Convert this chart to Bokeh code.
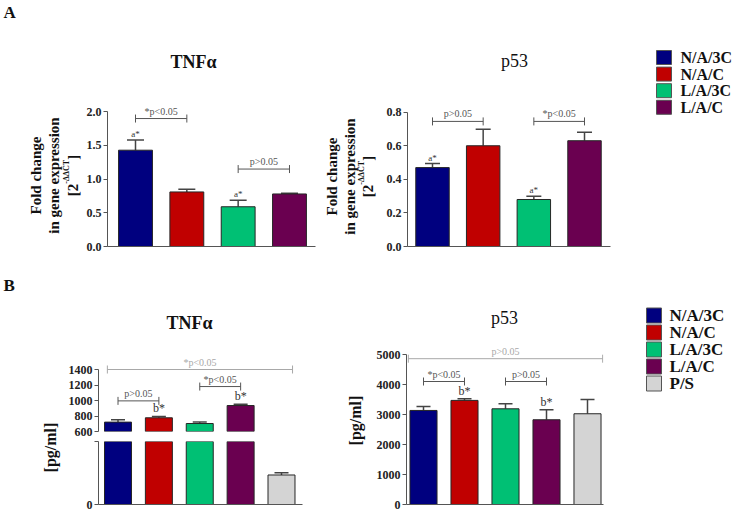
import numpy as np
from math import pi
from bokeh.plotting import figure
from bokeh.layouts import row, column
from bokeh.models import (Range1d, FixedTicker, Label, Whisker, TeeHead,
                          ColumnDataSource, NumeralTickFormatter)
from bokeh.embed import file_html
from bokeh.resources import INLINE
from bokeh.core.properties import value

# ---------------------------------------------------------------- data
groups_A = ["N/A/3C", "N/A/C", "L/A/3C", "L/A/C"]
groups_B = ["N/A/3C", "N/A/C", "L/A/3C", "L/A/C", "P/S"]
colors_B = ["#00007f", "#c00000", "#00c074", "#6a0050", "#d4d4d4"]
colors_A = colors_B[:4]

A_tnf_mean = [1.43, 0.81, 0.59, 0.78]
A_tnf_sem = [0.15, 0.04, 0.095, 0.012]
A_tnf_mark = ["a*", "", "a*", ""]
A_tnf_ticks = [0.0, 0.5, 1.0, 1.5, 2.0]
A_tnf_pairs = [(0, 1, 1.90, "*p<0.05"), (2, 3, 1.15, "p>0.05")]

A_p53_mean = [0.47, 0.60, 0.28, 0.63]
A_p53_sem = [0.024, 0.098, 0.02, 0.05]
A_p53_mark = ["a*", "", "a*", ""]
A_p53_ticks = [0.0, 0.2, 0.4, 0.6, 0.8]
A_p53_pairs = [(0, 1, 0.745, "p>0.05"), (2, 3, 0.745, "*p<0.05")]

B_tnf_mean = [721, 777, 703, 935, 281]
B_tnf_sem = [30, 17, 18, 18, 22]
B_tnf_mark = ["", "b*", "", "b*", ""]
B_tnf_break = 600
B_tnf_ticks_upper = [600, 800, 1000, 1200, 1400]
B_tnf_ticks_lower = [0, 600]
B_tnf_pairs = [(0, 1, 995, "p>0.05"), (2, 3, 1180, "*p<0.05")]
B_tnf_overall = [(1400, "*p<0.05")]

B_p53_mean = [3135, 3470, 3190, 2825, 3025]
B_p53_sem = [134, 56, 167, 334, 477]
B_p53_mark = ["", "b*", "", "b*", ""]
B_p53_ticks = [0, 1000, 2000, 3000, 4000, 5000]
B_p53_pairs = [(0, 1, 4100, "*p<0.05"), (2, 3, 4100, "p>0.05")]
B_p53_overall = [(4860, "p>0.05")]

# ---------------------------------------------------------------- style
SERIF = "Liberation Serif"
AX = "#555555"
ERR = "#444444"
BR = "#555555"
BR_LIGHT = "#a8a8a8"
FRAMES = {}


def panel(box, frame, x0, pitch, y0, ppu, ticks, fmt=None, x_axis=True):
    L, T, R, B = box
    fl, ft, fr, fb = frame
    fw, fh = fr - fl, fb - ft
    p = figure(frame_width=fw, frame_height=fh,
               min_border_left=fl - L, min_border_right=R - fr,
               min_border_top=ft - T, min_border_bottom=B - fb,
               x_range=Range1d(x0, x0 + fw / pitch),
               y_range=Range1d(y0, y0 + fh / ppu),
               toolbar_location=None, output_backend="svg",
               x_axis_location="below" if x_axis else None,
               y_axis_location="left")
    p.outline_line_color = None
    p.grid.visible = False
    ya = p.yaxis[0]
    ya.ticker = FixedTicker(ticks=ticks)
    ya.bounds = (ticks[0], ticks[-1])
    if fmt:
        ya.formatter = NumeralTickFormatter(format=fmt)
    ya.minor_tick_line_color = None
    ya.major_tick_in = 0
    ya.major_tick_out = 4
    ya.axis_line_color = AX
    ya.major_tick_line_color = AX
    ya.major_label_text_font = SERIF
    ya.major_label_text_font_style = "bold"
    ya.major_label_text_font_size = "12px"
    ya.major_label_text_color = "#222222"
    ya.major_label_standoff = 2
    if x_axis:
        xa = p.xaxis[0]
        xa.ticker = FixedTicker(ticks=[])
        xa.major_tick_in = 0
        xa.major_tick_out = 0
        xa.minor_tick_line_color = None
        xa.major_label_text_font_size = "0px"
        xa.major_label_standoff = 0
        xa.axis_line_color = AX
    FRAMES[p.id] = frame
    return p


def blank(box, band):
    """Figure without axes whose data coordinates are page pixels."""
    L, T, R, B = box
    ft, fb = band
    p = figure(frame_width=R - L, frame_height=fb - ft,
               min_border_left=0, min_border_right=0,
               min_border_top=ft - T, min_border_bottom=B - fb,
               x_range=Range1d(L, R), y_range=Range1d(fb, ft),
               toolbar_location=None, output_backend="svg",
               x_axis_location=None, y_axis_location=None)
    p.outline_line_color = None
    p.grid.visible = False
    return p


def bars(p, means, sems, marks, colors, lo, hi, width, cap, mark_size):
    x = np.arange(1, len(means) + 1)
    m = np.array(means, float)
    up = m + np.array(sems, float)
    keep = m > lo
    src = ColumnDataSource(dict(x=x[keep], top=np.minimum(m, hi)[keep],
                                c=[c for c, k in zip(colors, keep) if k]))
    p.vbar(x="x", top="top", bottom=lo, width=width, source=src,
           fill_color="c", line_color="#262626", line_width=1)
    wk = (up <= hi) & (m >= lo)
    wsrc = ColumnDataSource(dict(x=x[wk], lower=m[wk], upper=up[wk]))
    p.add_layout(Whisker(source=wsrc, base="x", lower="lower", upper="upper",
                         dimension="height", line_color=ERR, line_width=1.5,
                         lower_head=None,
                         upper_head=TeeHead(size=cap, line_color=ERR,
                                            line_width=1.5)))
    mk = wk & np.array([t != "" for t in marks])
    msrc = ColumnDataSource(dict(x=x[mk], y=up[mk],
                                 t=[t for t, k in zip(marks, mk) if k]))
    p.text(x="x", y="y", text="t", source=msrc, text_font=value(SERIF),
           text_font_size=mark_size, text_align="center",
           text_baseline="bottom", y_offset=-1, text_color="#333333")


def brackets(p, spans, color, size="10px"):
    src = ColumnDataSource(dict(
        x0=[s[0] for s in spans], x1=[s[1] for s in spans],
        xm=[(s[0] + s[1]) / 2 for s in spans],
        y=[s[2] for s in spans], t=[s[3] for s in spans]))
    p.add_layout(Whisker(source=src, base="y", lower="x0", upper="x1",
                         dimension="width", line_color=color, line_width=1,
                         lower_head=TeeHead(size=8, line_color=color, line_width=1),
                         upper_head=TeeHead(size=8, line_color=color, line_width=1)))
    p.text(x="xm", y="y", text="t", source=src, text_font=value(SERIF),
           text_font_size=size, text_align="center", text_baseline="bottom",
           y_offset=-2, text_color=color)


def pair_spans(pairs):
    return [(i + 1, j + 1, y, t) for i, j, y, t in pairs]


def label(p, px, py, text, size, bold=True, align="center", baseline="middle",
          color="#111111"):
    fl, ft, fr, fb = FRAMES[p.id]
    p.add_layout(Label(x=px - fl, y=fb - py, x_units="screen", y_units="screen",
                       text=text, text_align=align, text_baseline=baseline,
                       text_font=SERIF, text_font_size=f"{size}px",
                       text_font_style="bold" if bold else "normal",
                       text_color=color))


def btext(p, px, py, text, size, bold=True, angle=0.0, align="center",
          baseline="middle"):
    p.text(x=[px], y=[py], text=[text], angle=angle, text_align=align,
           text_baseline=baseline, text_font=value(SERIF),
           text_font_size=f"{size}px",
           text_font_style="bold" if bold else "normal", text_color="#111111")


def fold_label(p, xs, yc):
    btext(p, xs[0], yc, "Fold change", 15, angle=pi / 2)
    btext(p, xs[1], yc, "in gene expression", 15, angle=pi / 2)
    w1, w2, w3 = 12.5, 24, 5
    start = yc + (w1 + w2 + w3) / 2
    btext(p, xs[2], start, "[2", 15, angle=pi / 2, align="left")
    btext(p, xs[2] - 6, start - w1, "-ΔΔCT", 8, angle=pi / 2, align="left")
    btext(p, xs[2], start - w1 - w2, "]", 15, angle=pi / 2, align="left")


def legend(p, labels, colors, y_first, pitch, sw_x, sw, sh, tx, fsize):
    ys = y_first + pitch * np.arange(len(labels))
    p.rect(x=sw_x + sw / 2, y=ys, width=sw, height=sh, fill_color=colors,
           line_color="#555555", line_width=1)
    p.text(x=tx, y=ys, text=labels, text_font=value(SERIF),
           text_font_style="bold", text_font_size=f"{fsize}px",
           text_baseline="middle", text_color="#111111")


# ---------------------------------------------------------------- panel A
BAND_A = (0, 246)
labA1 = blank((0, 0, 83, 268), BAND_A)
btext(labA1, 3, 12, "A", 17, align="left")
fold_label(labA1, (35, 53, 72), 175)

fA1 = panel((83, 0, 318, 268), (107, 0, 315, 246), 1 - 28 / 51.33, 51.33,
            0, 67.35, A_tnf_ticks, "0.0")
bars(fA1, A_tnf_mean, A_tnf_sem, A_tnf_mark, colors_A, 0, 10, 0.66, 17, "9px")
brackets(fA1, pair_spans(A_tnf_pairs), BR)
label(fA1, 193, 61, "TNFα", 18, baseline="alphabetic")

labA2 = blank((318, 0, 378, 268), BAND_A)
fold_label(labA2, (331, 349, 367), 176)

fA2 = panel((378, 0, 630, 268), (407, 0, 610, 246), 1 - 25 / 50.67, 50.67,
            0, 167.9, A_p53_ticks, "0.0")
bars(fA2, A_p53_mean, A_p53_sem, A_p53_mark, colors_A, 0, 10, 0.66, 15, "9px")
brackets(fA2, pair_spans(A_p53_pairs), BR)
label(fA2, 514, 60, "p53", 18, bold=False, baseline="alphabetic")

legA = blank((630, 0, 732, 268), BAND_A)
legend(legA, groups_A, colors_A, 57, 16.6, 656, 15, 14, 680, 16)

# ---------------------------------------------------------------- panel B
BAND_B = (268, 504)
labB = blank((0, 268, 62, 510), BAND_B)
btext(labB, 3, 285, "B", 17, align="left")
btext(labB, 50, 447, "[pg/ml]", 16, angle=pi / 2)

xb0 = 1 - 19.5 / 40.875
fB1u = panel((62, 268, 318, 439), (98, 268, 302, 431), xb0, 40.875,
             B_tnf_break, 0.0775, B_tnf_ticks_upper, x_axis=False)
bars(fB1u, B_tnf_mean, B_tnf_sem, B_tnf_mark, colors_B, B_tnf_break, 1e9, 0.66, 14, "12px")
brackets(fB1u, pair_spans(B_tnf_pairs), BR)
brackets(fB1u, [(0.74, 5.27, y, t) for y, t in B_tnf_overall], BR_LIGHT)
label(fB1u, 189, 322, "TNFα", 18, baseline="alphabetic")

fB1l = panel((62, 439, 318, 510), (98, 441, 302, 504), xb0, 40.875,
             0, 63 / B_tnf_break, B_tnf_ticks_lower)
fB1l.yaxis[0].major_label_overrides = {600: ""}
bars(fB1l, B_tnf_mean, B_tnf_sem, B_tnf_mark, colors_B, 0, B_tnf_break, 0.66, 14, "12px")

labB2 = blank((318, 268, 370, 510), BAND_B)
btext(labB2, 355, 420, "[pg/ml]", 16, angle=pi / 2)

fB2 = panel((370, 268, 630, 510), (406, 268, 603, 504), 1 - 17 / 41, 41,
            0, 0.03, B_p53_ticks)
bars(fB2, B_p53_mean, B_p53_sem, B_p53_mark, colors_B, 0, 1e9, 0.66, 14, "12px")
brackets(fB2, pair_spans(B_p53_pairs), BR)
brackets(fB2, [(0.63, 5.37, y, t) for y, t in B_p53_overall], BR_LIGHT)
label(fB2, 504, 317, "p53", 18, bold=False, baseline="alphabetic")

legB = blank((630, 268, 732, 510), BAND_B)
legend(legB, groups_B, colors_B, 315, 17, 646, 15, 15, 669, 17)

layout = column(row(labA1, fA1, labA2, fA2, legA),
                row(labB, column(fB1u, fB1l), labB2, fB2, legB))

with open("out.html", "w") as f:
    f.write(file_html(layout, INLINE))
